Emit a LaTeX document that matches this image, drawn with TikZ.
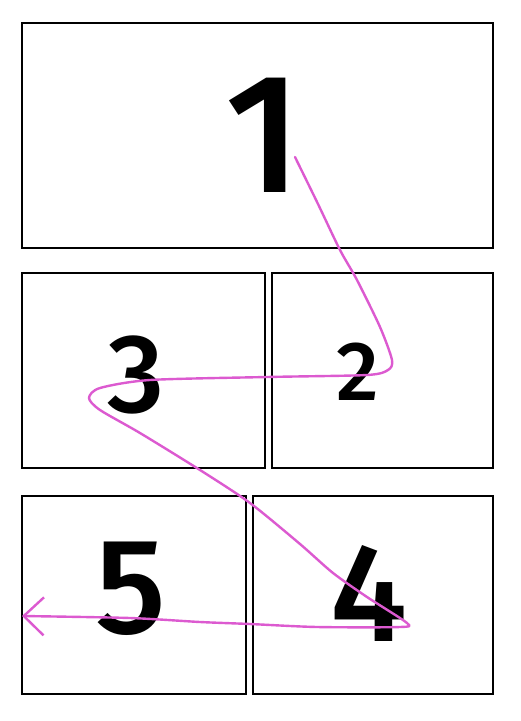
\documentclass[tikz,border=0pt]{standalone}
\usepackage{fontspec}
\newfontfamily\digitfont{Fira Sans}[UprightFont=* Medium]
\usepackage{xcolor}
\usetikzlibrary{arrows.meta}
\definecolor{marker}{HTML}{DC5AD0}

\begin{document}
\begin{tikzpicture}[x=1pt, y=-1pt,
        panel/.style={draw=black, line width=2pt, inner sep=0pt},
        digit/.style={inner sep=0pt, font=\digitfont},
        readpath/.style={draw=marker, line width=2.4pt, line cap=round, line join=round}]
        \useasboundingbox (0, 0) rectangle (520, 721);
        % draw the panels
        \foreach \n/\cx/\cy/\w/\h in {
            1/257.5/135.5/471/225, 2/382.5/370.5/221/195, 3/143.5/370.5/243/195,
            4/373/595/240/198, 5/134/595/224/198
        }{
            \node[panel, minimum width=\w pt, minimum height=\h pt] (panel\n) at (\cx, \cy) {};
        }
        % add panel numbers
        \foreach \n/\dx/\dy/\s in {
            1/264/135/170, 2/358/372/84, 3/136/375/112, 4/369/593/140, 5/131/589/136
        }{
            \node[digit] (num\n) at (\dx, \dy) {\fontsize{\s}{\s}\selectfont\n};
        }
        % reading order stroke
        \coordinate (start) at (295, 157);
        \coordinate (turnA) at (392, 360);
        \coordinate (turnB) at (89, 398);
        \coordinate (turnC) at (407, 623);
        \coordinate (tip) at (22, 616);
        \draw[readpath, -{Straight Barb[length=20pt, width=38pt, line width=2.4pt]}]
            plot[smooth, tension=0.45] coordinates {
                (start) (318, 204) (340, 250) (357, 280) (380, 327) (turnA) (388, 370)
                (367, 375) (267, 377) (150, 380) (100, 388) (turnB) (100, 410)
                (140, 433) (200, 470) (250, 503) (300, 544) (333, 573) (367, 597)
                (turnC) (400, 627) (317, 627) (250, 624) (200, 622) (130, 618) (tip)
            };
    \end{tikzpicture}
\end{document}
